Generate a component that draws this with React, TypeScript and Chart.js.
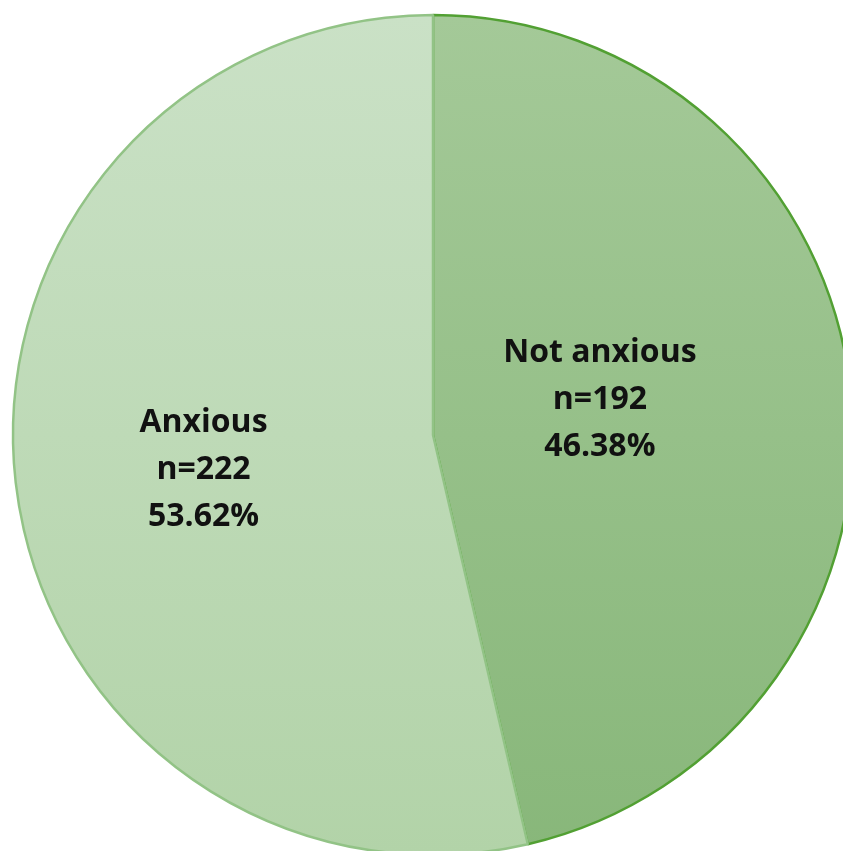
import React, { useEffect, useRef } from "react";
import { Chart, registerables } from "chart.js";

Chart.register(...registerables);

const categories = ["Not anxious", "Anxious"];
const counts = [192, 222];
const percentLabels = ["46.38%", "53.62%"];
const topColors = ["#a4c998", "#cae1c6"];
const bottomColors = ["#88b77a", "#b2d3a8"];
const borderColors = ["#52a033", "#92c386"];
const labelRadiusFractions = [0.4, 0.55];
const labelYOffsets = [-16, 9];

const labelPlugin = {
  id: "sliceLabels",
  afterDatasetsDraw(chart: any) {
    const { ctx } = chart;
    const meta = chart.getDatasetMeta(0);
    ctx.save();
    ctx.fillStyle = "#111111";
    ctx.textAlign = "center";
    ctx.textBaseline = "middle";
    ctx.font = "bold 32px 'Open Sans', Lato, sans-serif";
    meta.data.forEach((arc: any, i: number) => {
      const { x, y, startAngle, endAngle, outerRadius } = arc.getProps(
        ["x", "y", "startAngle", "endAngle", "outerRadius"],
        true
      );
      const mid = (startAngle + endAngle) / 2;
      const r = outerRadius * labelRadiusFractions[i];
      const cx = x + Math.cos(mid) * r;
      const cy = y + Math.sin(mid) * r + labelYOffsets[i];
      const lines = [categories[i], "n=" + counts[i], percentLabels[i]];
      const lh = 47;
      lines.forEach((t, k) => {
        ctx.fillText(t, cx, cy + (k - 1) * lh);
      });
    });
    ctx.restore();
  },
};

export default function App() {
  const ref = useRef<HTMLCanvasElement | null>(null);
  useEffect(() => {
    document.body.style.margin = "0";
    const canvas = ref.current!;
    const chart = new Chart(canvas, {
      type: "pie",
      data: {
        labels: categories,
        datasets: [
          {
            data: counts,
            radius: 420,
            borderWidth: 2.5,
            borderColor: borderColors,
            backgroundColor: (c: any) => {
              const ch = c.chart;
              const area = ch.chartArea;
              if (!area) return topColors[c.dataIndex];
              const cy = (area.top + area.bottom) / 2;
              const g = ch.ctx.createLinearGradient(0, cy - 420, 0, cy + 420);
              g.addColorStop(0, topColors[c.dataIndex]);
              g.addColorStop(1, bottomColors[c.dataIndex]);
              return g;
            },
          },
        ],
      },
      options: {
        animation: false,
        responsive: false,
        maintainAspectRatio: false,
        layout: { padding: 0 },
        plugins: {
          legend: { display: false },
          tooltip: { enabled: false },
        },
      },
      plugins: [labelPlugin],
    });
    return () => chart.destroy();
  }, []);
  return (
    <div
      style={{
        position: "fixed",
        left: 0,
        top: 0,
        width: 843,
        height: 851,
        overflow: "hidden",
        background: "#ffffff",
      }}
    >
      <canvas ref={ref} width={866} height={870} style={{ width: 866, height: 870, display: "block" }} />
    </div>
  );
}
